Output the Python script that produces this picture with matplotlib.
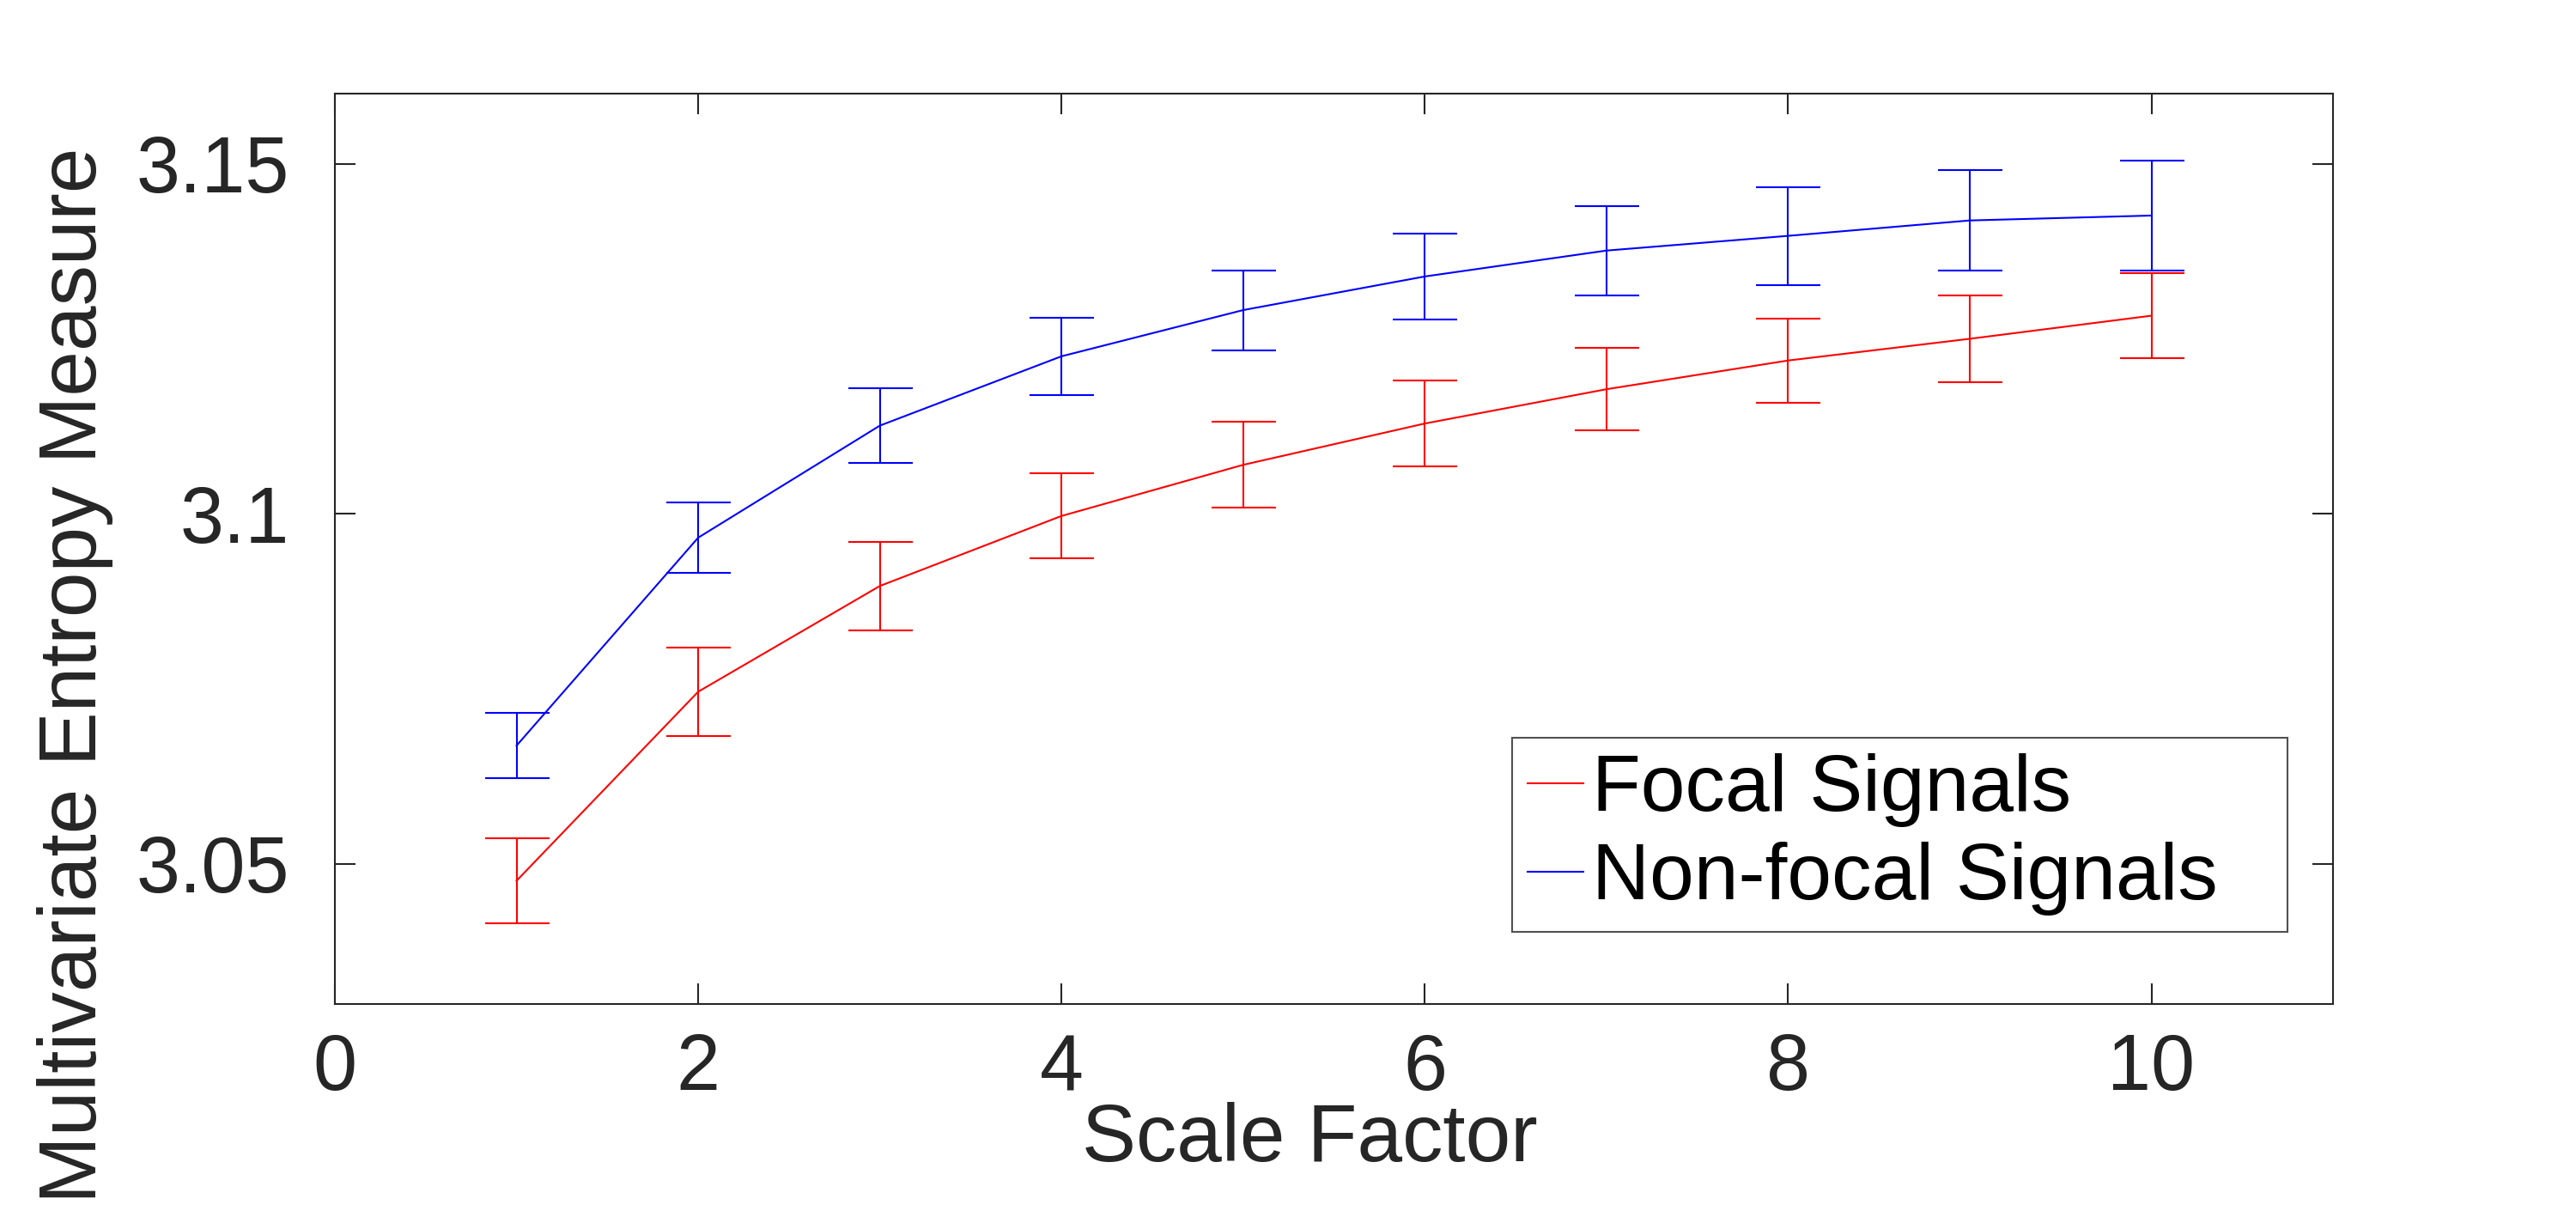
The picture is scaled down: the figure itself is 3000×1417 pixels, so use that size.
import numpy as np
import matplotlib
matplotlib.use('Agg')
import matplotlib.pyplot as plt
from matplotlib.lines import Line2D

plt.rcParams['font.family'] = ['Liberation Sans', 'DejaVu Sans']

# Multivariate entropy vs scale factor (mean and error bar half-width)
scale = [1, 2, 3, 4, 5, 6, 7, 8, 9, 10]
focal_mean = [3.0476, 3.0746, 3.0897, 3.0997, 3.1070, 3.1129, 3.1178, 3.1219, 3.1250, 3.1283]
focal_err = [0.0061, 0.0063, 0.0063, 0.0061, 0.0061, 0.0061, 0.0059, 0.0060, 0.0062, 0.0061]
nonfocal_mean = [3.0669, 3.0966, 3.1126, 3.1225, 3.1291, 3.1339, 3.1376, 3.1397, 3.1419, 3.1426]
nonfocal_err = [0.0047, 0.0050, 0.0053, 0.0055, 0.0057, 0.0061, 0.0064, 0.0070, 0.0072, 0.0079]

xticks = [0, 2, 4, 6, 8, 10]
yticks = [3.05, 3.1, 3.15]
yticklabels = ['3.05', '3.1', '3.15']

fig = plt.figure(figsize=(30, 14.17), dpi=100)
ax = fig.add_axes([0.130, 0.175, 0.7757, 0.748])

lw = 1.5
ax.errorbar(scale, focal_mean, yerr=focal_err, color='#ff0000', lw=lw,
            elinewidth=lw, capsize=27, capthick=lw)
ax.errorbar(scale, nonfocal_mean, yerr=nonfocal_err, color='#0000ff', lw=lw,
            elinewidth=lw, capsize=27, capthick=lw)

ax.set_xlim(0, 11)
ax.set_ylim(3.03, 3.16)
ax.set_xticks(xticks)
ax.set_yticks(yticks)
ax.set_yticklabels(yticklabels)

for s in ax.spines.values():
    s.set_color('#262626')
    s.set_linewidth(1.5)
ax.tick_params(direction='in', length=17, width=1.5, color='#262626',
               labelcolor='#262626', labelsize=66, top=True, right=True)
ax.tick_params(axis='x', pad=24)
ax.tick_params(axis='y', pad=38)

ax.set_xlabel('Scale Factor', fontsize=68, color='#262626', va='top')
ax.xaxis.set_label_coords(0.488, -0.108)
ax.set_ylabel('Multivariate Entropy Measure', fontsize=68, color='#262626', va='center')
ax.yaxis.set_label_coords(-0.13, 0.361)

handles = [Line2D([], [], color='#ff0000', lw=lw),
           Line2D([], [], color='#0000ff', lw=lw)]
leg = ax.legend(handles, ['Focal Signals', 'Non-focal Signals'],
                loc='lower left', bbox_to_anchor=(0.589, 0.0795, 0.388, 0.2),
                mode='expand', fontsize=67,
                frameon=True, fancybox=False, edgecolor='#262626',
                handlelength=0.7, handletextpad=0.1, borderpad=0.2,
                labelspacing=0.18, borderaxespad=0)
leg.get_frame().set_linewidth(1.5)

fig.savefig('out.png', dpi=100, facecolor='white')
